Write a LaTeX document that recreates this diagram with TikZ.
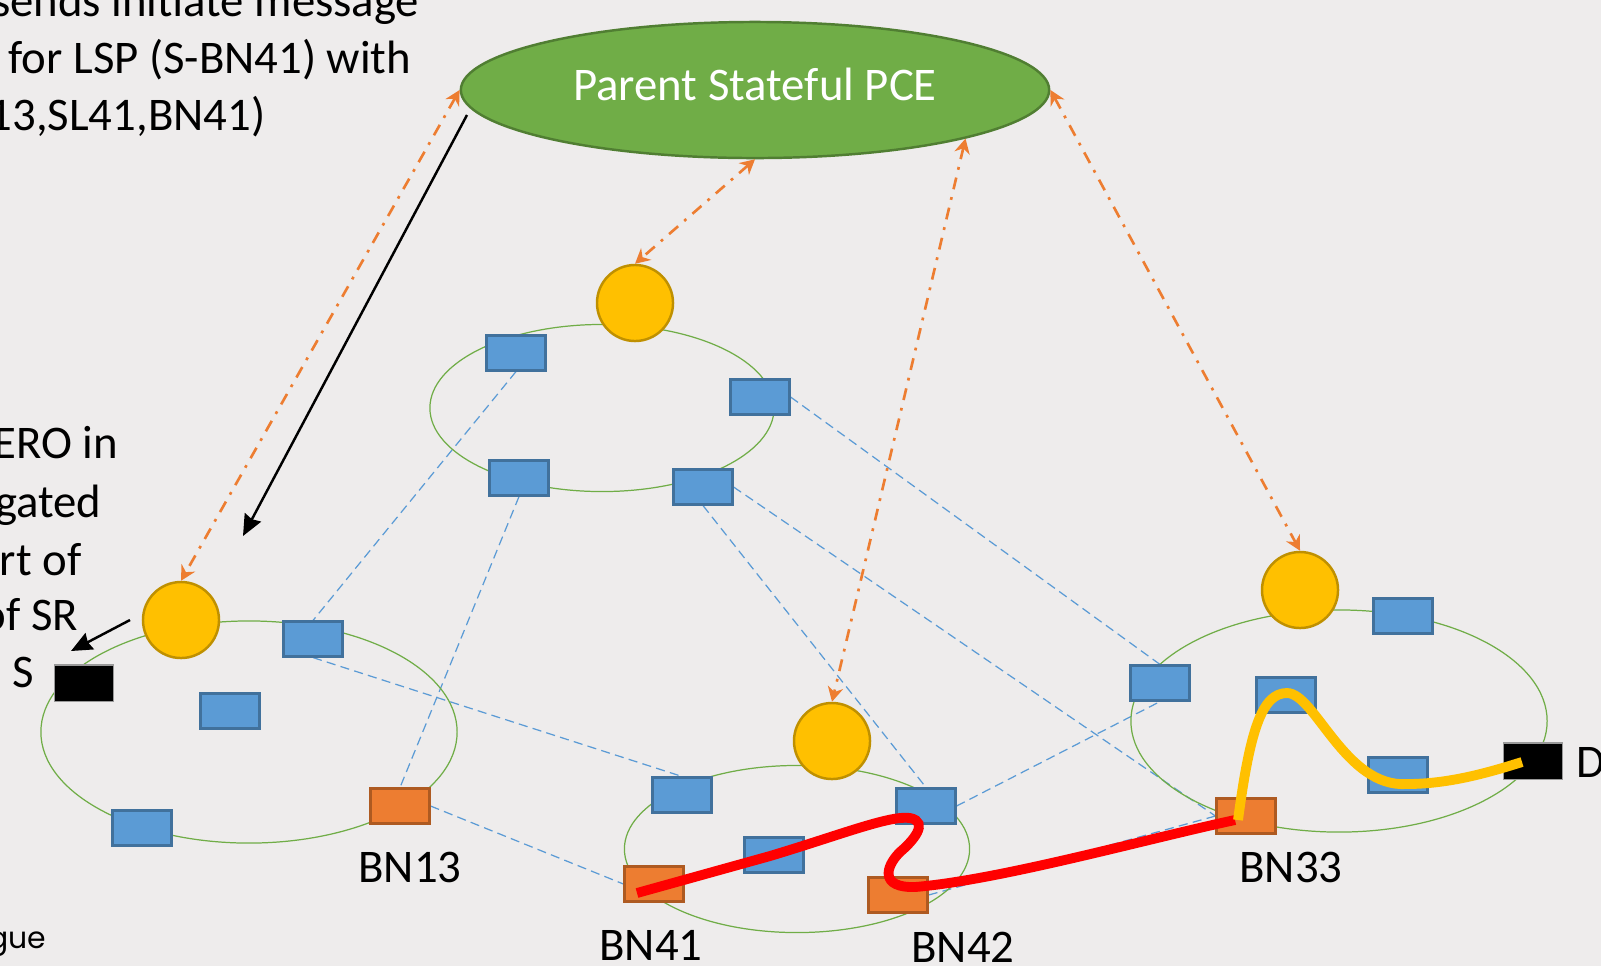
\documentclass[tikz,border=0pt]{standalone}
\usepackage{xcolor}
\usepackage{fontspec}
\setmainfont{Carlito}
\newfontfamily\footfont{Poppins}
\usepackage{tikz}
\usetikzlibrary{shapes.geometric,arrows.meta,calc,backgrounds}
\definecolor{SlideGrey}{HTML}{EEECEC}
\definecolor{PceGreen}{HTML}{70AD47}
\definecolor{PceEdge}{HTML}{507E32}
\definecolor{NodeBlue}{HTML}{5B9BD5}
\definecolor{NodeBlueEdge}{HTML}{41719C}
\definecolor{BorderOrange}{HTML}{ED7D31}
\definecolor{BorderOrangeEdge}{HTML}{AE5A21}
\definecolor{ChildYellow}{HTML}{FFC000}
\definecolor{ChildYellowEdge}{HTML}{BF9000}
\definecolor{PathRed}{HTML}{FF0000}
\tikzset{
  % Domain ring
  DOM/.style={ellipse,draw=PceGreen,line width=0.35pt,inner sep=0pt},
  % Router box
  RB/.style={rectangle,minimum width=0.59cm,minimum height=0.35cm,
             inner sep=0pt,line width=0.6pt},
  nBl/.style={RB,fill=NodeBlue,draw=NodeBlueEdge},
  nOr/.style={RB,fill=BorderOrange,draw=BorderOrangeEdge},
  nBk/.style={RB,fill=black,draw=black!40,line width=0.3pt,minimum height=0.36cm},
  % Child PCE
  cP/.style={circle,minimum size=0.76cm,inner sep=0pt,
             fill=ChildYellow,draw=ChildYellowEdge,line width=0.7pt},
  % Connectors
  lnk/.style={draw=NodeBlue,line width=0.35pt,dash pattern=on 2.6pt off 1.5pt},
  pcep/.style={{Stealth[length=4.2pt,width=4.4pt]}-{Stealth[length=4.2pt,width=4.4pt]},
               draw=BorderOrange,line width=0.75pt,
               dash pattern=on 3.4pt off 2.3pt on 0.8pt off 2.3pt},
  arr/.style={-{Stealth[length=6pt,width=5.2pt,inset=0.6pt]},line width=0.7pt},
  lsp/.style={line width=2.8pt},
  % Text
  txt/.style={inner sep=0pt,font=\fontsize{13.3}{16}\selectfont}
}

\begin{document}
\begin{tikzpicture}[x=0.01cm,y=-0.01cm]
  \useasboundingbox (0,0) rectangle (1601,966);
  \begin{scope}[on background layer]
    \fill[SlideGrey] (0,0) rectangle (1601,966);
  \end{scope}

  \node[DOM,minimum width=3.44cm,minimum height=1.67cm] (domT) at (602,408) {};
  \node[DOM,minimum width=4.16cm,minimum height=2.22cm] (domL) at (249,732) {};
  \node[DOM,minimum width=3.45cm,minimum height=1.67cm] (domM) at (797,849) {};
  \node[DOM,minimum width=4.16cm,minimum height=2.22cm] (domR) at (1339,721) {};

  \node[ellipse,fill=PceGreen,draw=PceEdge,line width=0.7pt,inner sep=0pt,
        minimum width=5.88cm,minimum height=1.36cm] (pce) at (755,90) {};
  \node[txt,text=white] (pceTxt) at (755,84) {Parent Stateful PCE};

  \node[cP] (bnT) at (635,303) {};
  \node[cP] (bnL) at (181,620) {};
  \node[cP] (bnM) at (832,741) {};
  \node[cP] (bnR) at (1300,590) {};

  \node[nBl] (tA) at (516,353) {};
  \node[nBl] (tB) at (760,397) {};
  \node[nBl] (tC) at (519,478) {};
  \node[nBl] (tD) at (703,487) {};
  \node[nBl] (lA) at (313,639) {};
  \node[nBl] (lB) at (230,711) {};
  \node[nBl] (lC) at (142,828) {};
  \node[nBl] (mA) at (682,795) {};
  \node[nBl] (mB) at (926,806) {};
  \node[nBl] (mC) at (774,855) {};
  \node[nBl] (rA) at (1160,683) {};
  \node[nBl] (rB) at (1286,695) {};
  \node[nBl] (rC) at (1398,775) {};
  \node[nBl] (rD) at (1403,616) {};
  \node[nOr] (bn13) at (400,806) {};
  \node[nOr] (bn41) at (654,884) {};
  \node[nOr] (bn42) at (898,895) {};
  \node[nOr] (bn33) at (1246,816) {};
  \node[nBk] (src) at (84,683) {};
  \node[nBk] (dst) at (1533,761) {};

  \node[txt,anchor=base] (lbl13) at (410,882) {BN13};
  \node[txt,anchor=base] (lbl41) at (651,960) {BN41};
  \node[txt,anchor=base] (lbl42) at (963,962) {BN42};
  \node[txt,anchor=base] (lbl33) at (1291,882) {BN33};
  \node[txt,anchor=base east] (lblS) at (35,687) {S};
  \node[txt,anchor=base west] (lblD) at (1576,777) {D};

  \node[txt,anchor=base east] (msg1) at (420,16) {sends initiate message};
  \node[txt,anchor=base east] (msg2) at (412,73) {for LSP (S-BN41) with};
  \node[txt,anchor=base east] (msg3) at (266,130) {13,SL41,BN41)};
  \node[txt,anchor=base east] (ero1) at (119,458) {ERO in};
  \node[txt,anchor=base east] (ero2) at (102,517) {gated};
  \node[txt,anchor=base east] (ero3) at (82,575) {rt of};
  \node[txt,anchor=base east] (ero4) at (79,630) {of SR};
  \node[inner sep=0pt,anchor=base east,font=\footfont\fontsize{8.5}{10}\selectfont] (foot) at (47,948) {gue};

  \begin{scope}[on background layer]
    \draw[lnk] (tA.south) -- (lA.north);
    \draw[lnk] (tC.south) -- (bn13.north);
    \draw[lnk] (tB.east) -- (rA.north);
    \draw[lnk] (tD.east) -- (bn33.west);
    \draw[lnk] (tD.south) -- (mB.north);
    \draw[lnk] (lA.south) -- (mA.north);
    \draw[lnk] (bn13.east) -- (bn41.west);
    \draw[lnk] (mB.east) -- (rA.south);
    \draw[lnk] (bn42.east) -- (bn33.west);
  \end{scope}

  \draw[pcep] (pce.west) -- (bnL.north);
  \draw[pcep] (pce.south) -- (bnT.north);
  \draw[pcep] (pce.-13) -- (bnM.north);
  \draw[pcep] (pce.east) -- (bnR.north);

  \coordinate (msgA) at (467,115);
  \coordinate (msgB) at (243,536);
  \draw[arr] (msgA) -- (msgB);
  \coordinate (eroA) at (130,620);
  \coordinate (eroB) at (71,651);
  \draw[arr] (eroA) -- (eroB);

  \draw[lsp,PathRed] ($(bn41)+(-17,9)$) -- (770,856)
    .. controls (840,835) and (890,815) .. (910,818)
    .. controls (930,822) and (912,842) .. (900,852)
    .. controls (885,867) and (880,888) .. (915,887)
    .. controls (1000,880) and (1150,838) .. ($(bn33)+(-11,4)$);
  \draw[lsp,ChildYellow] ($(bn33)+(-8,4)$)
    .. controls (1250,730) and (1262,693) .. (1287,693)
    .. controls (1315,693) and (1345,788) .. (1407,784)
    .. controls (1450,784) and (1490,772) .. ($(dst)+(-11,1)$);
\end{tikzpicture}
\end{document}
